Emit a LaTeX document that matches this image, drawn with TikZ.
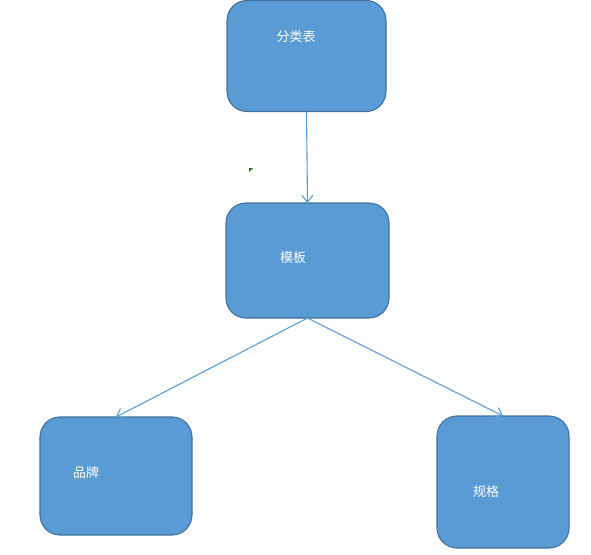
\documentclass[tikz,border=0pt]{standalone}
\usepackage{fontspec}
\newfontfamily\cjk{Noto Sans CJK SC}
\usetikzlibrary{arrows.meta}
\definecolor{boxfill}{HTML}{5B9BD5}
\definecolor{boxedge}{HTML}{41719C}
\definecolor{linkcol}{HTML}{5B9BD5}
\definecolor{tickgreen}{HTML}{1E7B1E}
\begin{document}
\begin{tikzpicture}[x=1pt,y=-1pt,
  box/.style={draw=boxedge,fill=boxfill,line width=1.1pt,rounded corners=20pt,
    inner sep=0pt,outer sep=0pt},
  boxtext/.style={text=white,font=\cjk\fontsize{13}{15}\selectfont,inner sep=0pt},
  link/.style={draw=linkcol,line width=1.1pt,-{Straight Barb[length=7pt,width=11pt,line width=1.1pt]}}]
\useasboundingbox (0,0) rectangle (591,554);
% boxes
\node[box,minimum width=159pt,minimum height=111pt] (cat) at (306.5,56) {};
\node[box,minimum width=163pt,minimum height=115pt] (tpl) at (307.5,260.5) {};
\node[box,minimum width=152pt,minimum height=118pt] (brand) at (116,476) {};
\node[box,minimum width=132pt,minimum height=132pt] (spec) at (503,482) {};
% labels
\node[boxtext] (catlbl) at (296,37) {分类表};
\node[boxtext] (tpllbl) at (293,258) {模板};
\node[boxtext] (brandlbl) at (86,473) {品牌};
\node[boxtext] (speclbl) at (486,492) {规格};
% connectors
\draw[link] (cat.south) -- (tpl.north);
\draw[link] (tpl.south) -- (brand.north);
\draw[link] (tpl.south) -- (spec.north);
% small mark
\fill[tickgreen] (249,168) -- (253,168) -- (249,172) -- cycle;
\end{tikzpicture}
\end{document}
